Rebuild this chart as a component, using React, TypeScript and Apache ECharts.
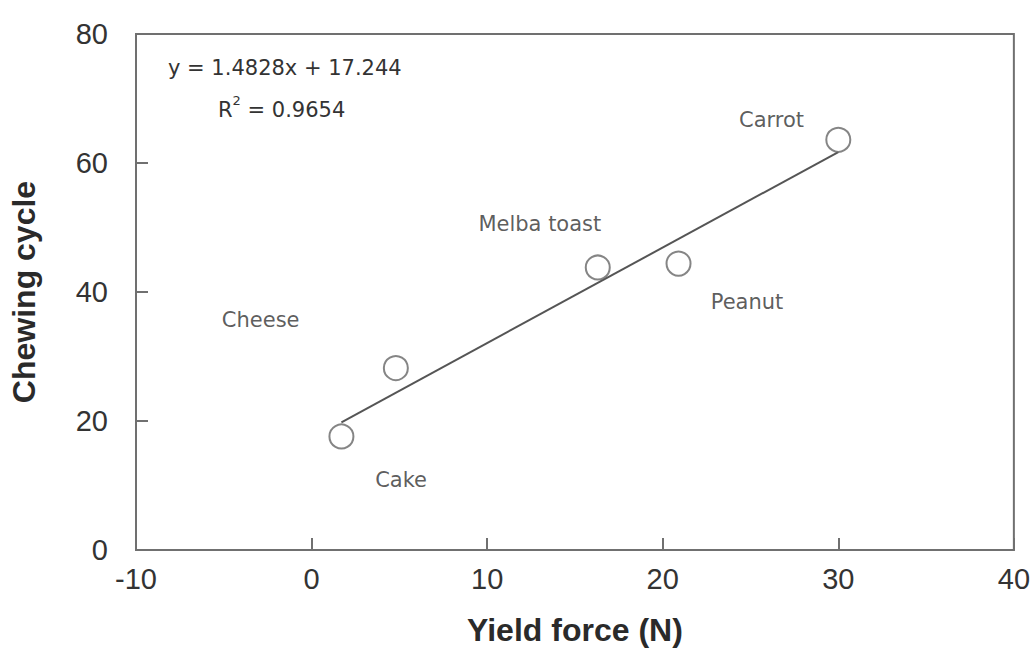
import React, { useEffect, useRef } from "react";
import * as echarts from "echarts";

const xTicks = [-10, 40];
const yRange = [0, 80];
const foods = ["Cake", "", "Melba toast", "Peanut", "Carrot"];
const yieldForce = [1.7, 4.8, 16.3, 20.9, 30.0];
const chewingCycles = [17.6, 28.2, 43.8, 44.4, 63.6];
const trendX = [1.7, 30.0];
const trendY = [19.8, 61.7];
const labelNames = ["Cheese", "Cake", "Melba toast", "Peanut", "Carrot"];
const labelX = [-2.9, 5.1, 13.0, 24.8, 26.2];
const labelY = [35.6, 10.8, 50.6, 38.5, 66.6];
const equationText = "y = 1.4828x + 17.244";
const r2Value = "0.9654";

export default function App() {
  const ref = useRef<HTMLDivElement>(null);
  useEffect(() => {
    if (!ref.current) return;
    const chart = echarts.init(ref.current, null, { renderer: "svg" });
    const axisColor = "#707070";
    const textColor = "#333";
    const tickFont = { fontFamily: "Liberation Sans, Arial, sans-serif", fontSize: 29, color: textColor };
    const annFont = { fontFamily: "DejaVu Sans, sans-serif", fontSize: 21, color: textColor };
    chart.setOption({
      animation: false,
      backgroundColor: "#fff",
      grid: { left: 136, right: 19, top: 34, bottom: 100, show: true, borderColor: axisColor, borderWidth: 2, backgroundColor: "transparent" },
      xAxis: {
        type: "value",
        min: xTicks[0],
        max: xTicks[1],
        interval: 10,
        name: "Yield force (N)",
        nameLocation: "middle",
        nameGap: 64,
        nameTextStyle: { fontFamily: "Liberation Sans, Arial, sans-serif", fontSize: 32, fontWeight: "bold", color: "#2a2a2a" },
        axisLine: { show: true, onZero: false, lineStyle: { color: axisColor, width: 2 } },
        axisTick: { show: true, inside: true, length: 12, lineStyle: { color: axisColor, width: 2 } },
        axisLabel: { ...tickFont, margin: 14 },
        splitLine: { show: false },
      },
      yAxis: {
        type: "value",
        min: yRange[0],
        max: yRange[1],
        interval: 20,
        name: "Chewing cycle",
        nameLocation: "middle",
        nameGap: 96,
        nameTextStyle: { fontFamily: "Liberation Sans, Arial, sans-serif", fontSize: 32, fontWeight: "bold", color: "#2a2a2a" },
        axisLine: { show: true, onZero: false, lineStyle: { color: axisColor, width: 2 } },
        axisTick: { show: true, inside: true, length: 12, lineStyle: { color: axisColor, width: 2 } },
        axisLabel: { ...tickFont, margin: 28 },
        splitLine: { show: false },
      },
      graphic: [
        { type: "text", left: 168, top: 57, style: { text: equationText, fontFamily: annFont.fontFamily, fontSize: annFont.fontSize, fill: textColor } },
        {
          type: "text",
          left: 218,
          top: 94,
          style: {
            text: "{b|R}{s|2}{b| = " + r2Value + "}",
            fill: textColor,
            rich: {
              b: { fontFamily: annFont.fontFamily, fontSize: 21, color: textColor, verticalAlign: "bottom", lineHeight: 26 },
              s: { fontFamily: annFont.fontFamily, fontSize: 13, color: textColor, verticalAlign: "top", lineHeight: 26, padding: [0, 0, 10, 0] },
            },
          },
        },
      ],
      series: [
        {
          type: "line",
          data: trendX.map((x, i) => [x, trendY[i]]),
          symbol: "none",
          lineStyle: { color: "#555", width: 2 },
          z: 2,
        },
        {
          type: "scatter",
          data: yieldForce.map((x, i) => ({ value: [x, chewingCycles[i]], name: foods[i] })),
          symbol: "circle",
          symbolSize: 24,
          itemStyle: { color: "#fff", borderColor: "#666", borderWidth: 2 },
          z: 3,
        },
        {
          type: "scatter",
          data: labelNames.map((n, i) => ({ value: [labelX[i], labelY[i]], name: n })),
          symbolSize: 0,
          label: { show: true, position: "inside", formatter: "{b}", ...annFont },
          z: 4,
        },
      ],
    });
    return () => chart.dispose();
  }, []);
  return <div ref={ref} style={{ width: 1033, height: 651, position: "absolute", left: 0, top: 0 }} />;
}
